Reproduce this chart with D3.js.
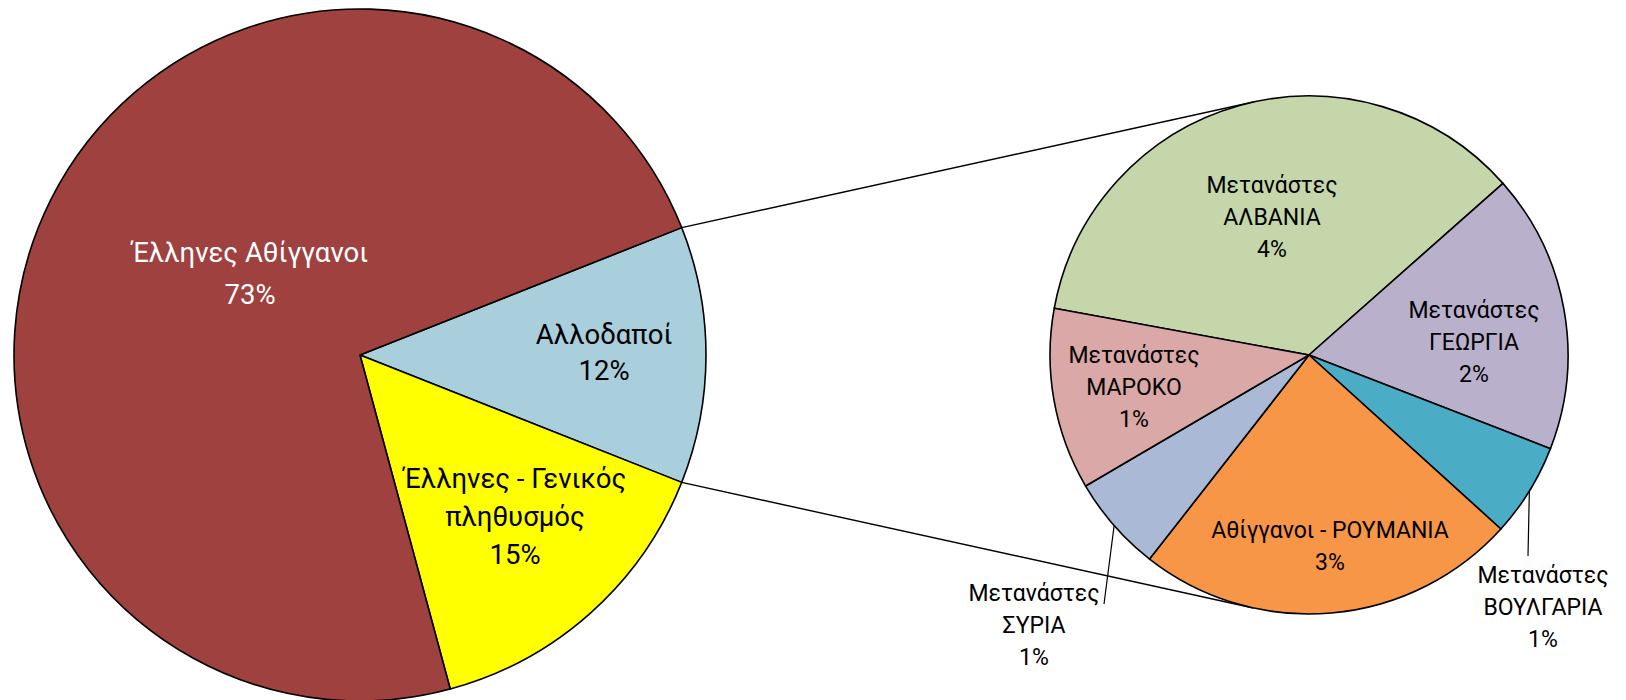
<!DOCTYPE html>
<html><head><meta charset="utf-8">
<script src="https://cdn.jsdelivr.net/npm/d3@7"></script>
<style>body{margin:0;background:#fff;} svg{display:block;}</style>
</head><body>
<svg id="chart" width="1626" height="700"></svg>
<script>
// ---- data ----
const mainCategories = ["Αλλοδαποί", "Έλληνες - Γενικός πληθυσμός", "Έλληνες Αθίγγανοι"];
const mainValues = [12.0, 14.8, 73.2];
const mainLabelNames = [["Αλλοδαποί"], ["Έλληνες - Γενικός", "πληθυσμός"], ["Έλληνες Αθίγγανοι"]];
const mainColors = ["#A9CEDC", "#FFFF00", "#9E413F"];
const mainTextColors = ["#000", "#000", "#fff"];

const subCategories = ["Μετανάστες ΑΛΒΑΝΙΑ", "Μετανάστες ΓΕΩΡΓΙΑ", "Μετανάστες ΒΟΥΛΓΑΡΙΑ",
                       "Αθίγγανοι - ΡΟΥΜΑΝΙΑ", "Μετανάστες ΣΥΡΙΑ", "Μετανάστες ΜΑΡΟΚΟ"];
const subValues = [4.27, 2.09, 0.70, 2.86, 0.72, 1.36];
const subLabelNames = [["Μετανάστες", "ΑΛΒΑΝΙΑ"], ["Μετανάστες", "ΓΕΩΡΓΙΑ"], ["Μετανάστες", "ΒΟΥΛΓΑΡΙΑ"],
                       ["Αθίγγανοι - ΡΟΥΜΑΝΙΑ"], ["Μετανάστες", "ΣΥΡΙΑ"], ["Μετανάστες", "ΜΑΡΟΚΟ"]];
const subColors = ["#C4D6AA", "#B9B0CC", "#4BACC6", "#F79646", "#A9B9D6", "#D9A8A7"];

// ---- layout ----
const W = 1626, H = 700;
const mainC = {x: 360, y: 355, r: 346};
const subC = {x: 1309, y: 355, r: 259};
const mainFont = 27.5, subFont = 23;
const subLineH = 32;
// label block: center x, first baseline y, line height
const mainLabelPos = [{x: 604, y: 344, lh: 36}, {x: 515, y: 488, lh: 38}, {x: 250, y: 262, lh: 42}];
const subLabelPos = [{x: 1272, y: 193}, {x: 1474, y: 318}, {x: 1543, y: 583},
                     {x: 1330, y: 538}, {x: 1034, y: 601}, {x: 1134, y: 363}];
// leader anchors (label side) for outside labels
const subLeaders = {2: {x: 1528, y: 556}, 4: {x: 1104, y: 604}};

const fontFamily = "Roboto, 'Noto Sans', 'DejaVu Sans', sans-serif";
const svg = d3.select("#chart");
const toRad = d => d * Math.PI / 180;
const pct = v => Math.round(v) + "%";

// main pie: first slice (the split one) centered pointing right
const mainTotal = d3.sum(mainValues);
const mainStart = Math.PI / 2 - Math.PI * mainValues[0] / mainTotal;
const mainPie = d3.pie().sort(null).value(d => d).startAngle(mainStart).endAngle(mainStart + 2 * Math.PI);
const mainArcs = mainPie(mainValues);

const subStart = toRad(-79.6);
const subPie = d3.pie().sort(null).value(d => d).startAngle(subStart).endAngle(subStart + 2 * Math.PI);
const subArcs = subPie(subValues);

const polar = (c, r, a) => ({x: c.x + r * Math.sin(a), y: c.y - r * Math.cos(a)});

// connectors: tangents from split slice edges to secondary pie
function tangent(P, C, R, sign) {
  const dx = C.x - P.x, dy = C.y - P.y;
  const d = Math.hypot(dx, dy);
  const th = Math.atan2(dy, dx);
  const al = Math.asin(R / d);
  const L = Math.sqrt(d * d - R * R);
  const a = th + sign * al;
  return {x: P.x + L * Math.cos(a), y: P.y + L * Math.sin(a)};
}
const pUp = polar(mainC, mainC.r, mainArcs[0].startAngle);
const pDn = polar(mainC, mainC.r, mainArcs[0].endAngle);
const tUp = tangent(pUp, subC, subC.r, -1);
const tDn = tangent(pDn, subC, subC.r, +1);
svg.append("g").selectAll("line").data([[pUp, tUp], [pDn, tDn]]).join("line")
  .attr("x1", d => d[0].x).attr("y1", d => d[0].y)
  .attr("x2", d => d[1].x).attr("y2", d => d[1].y)
  .attr("stroke", "#000").attr("stroke-width", 1.4);

// main pie
const mainArc = d3.arc().innerRadius(0).outerRadius(mainC.r);
svg.append("g").attr("transform", `translate(${mainC.x},${mainC.y})`)
  .selectAll("path").data(mainArcs).join("path")
  .attr("d", mainArc).attr("fill", (d, i) => mainColors[i])
  .attr("stroke", "#000").attr("stroke-width", 1.6).attr("stroke-linejoin", "round");

// secondary pie
const subArc = d3.arc().innerRadius(0).outerRadius(subC.r);
svg.append("g").attr("transform", `translate(${subC.x},${subC.y})`)
  .selectAll("path").data(subArcs).join("path")
  .attr("d", subArc).attr("fill", (d, i) => subColors[i])
  .attr("stroke", "#000").attr("stroke-width", 1.6).attr("stroke-linejoin", "round");

// leader lines
Object.entries(subLeaders).forEach(([i, anchor]) => {
  const a = subArcs[i];
  const mid = (a.startAngle + a.endAngle) / 2;
  const p = polar(subC, subC.r, mid);
  svg.append("line").attr("x1", anchor.x).attr("y1", anchor.y).attr("x2", p.x).attr("y2", p.y)
    .attr("stroke", "#000").attr("stroke-width", 1.2);
});

// labels
function drawLabel(lines, pos, size, lh, color) {
  const t = svg.append("text").attr("text-anchor", "middle")
    .attr("font-family", fontFamily).attr("font-size", size).attr("fill", color);
  lines.forEach((s, k) => t.append("tspan").attr("x", pos.x).attr("y", pos.y + k * lh).text(s));
}
mainArcs.forEach((a, i) => drawLabel([...mainLabelNames[i], pct(mainValues[i])], mainLabelPos[i], mainFont, mainLabelPos[i].lh, mainTextColors[i]));
subArcs.forEach((a, i) => drawLabel([...subLabelNames[i], pct(subValues[i])], subLabelPos[i], subFont, subLineH, "#000"));
</script>
</body></html>
